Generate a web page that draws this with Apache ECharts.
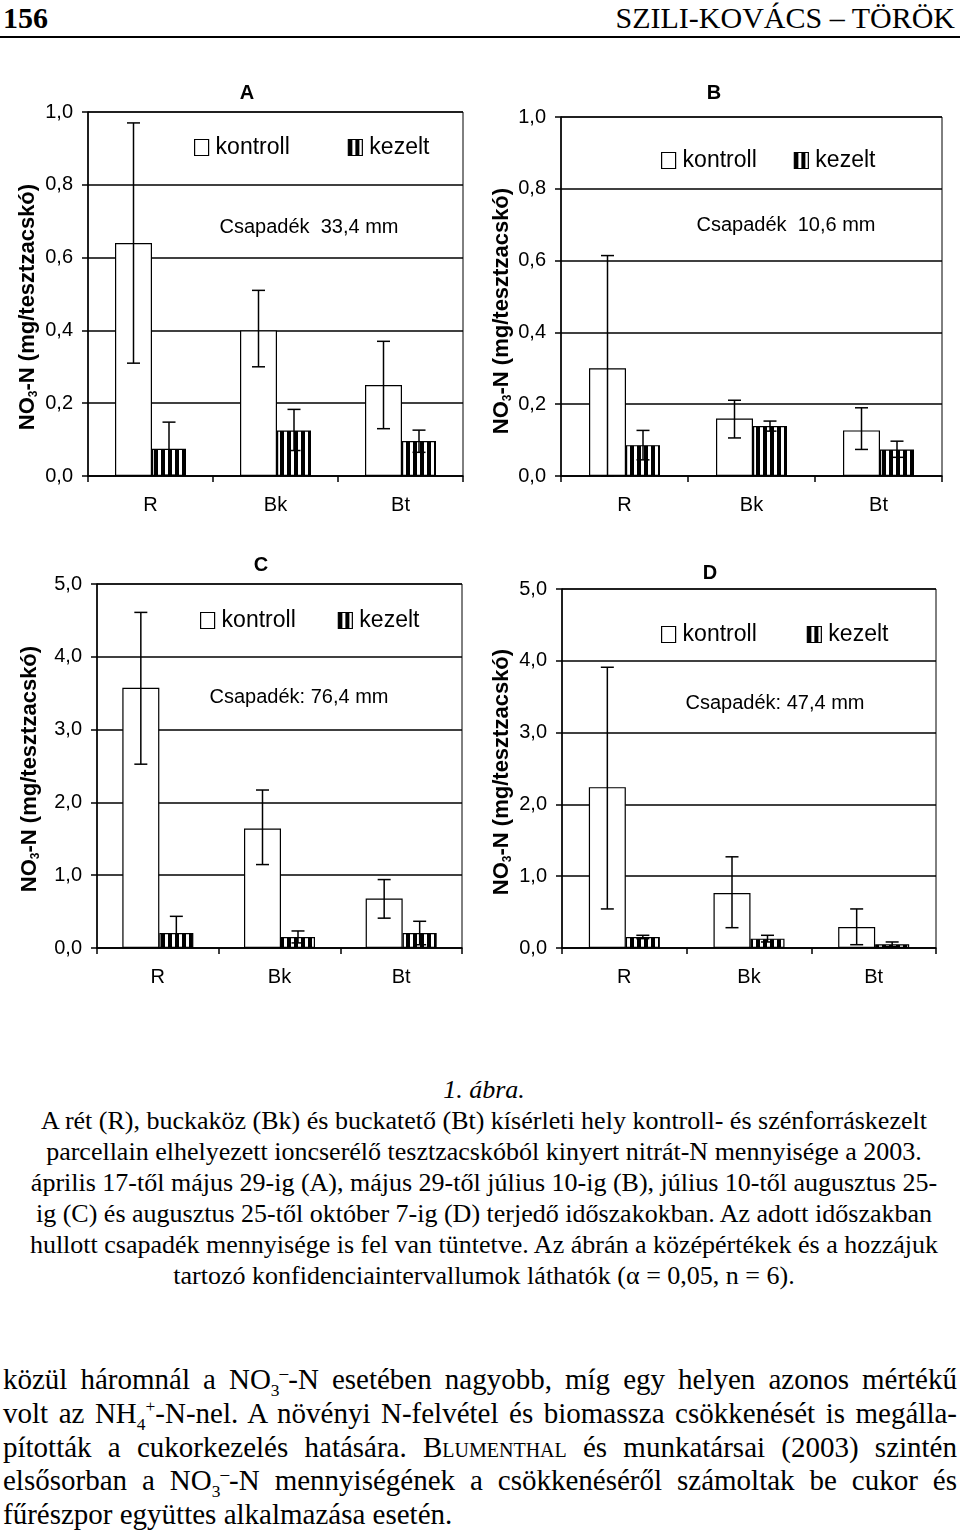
<!DOCTYPE html>
<html>
<head>
<meta charset="utf-8">
<script src="https://cdn.jsdelivr.net/npm/echarts@6/dist/echarts.min.js"></script>
<style>
  html, body { margin: 0; padding: 0; background: #fff; }
  body { width: 960px; height: 1531px; position: relative; overflow: hidden; font-family: 'Liberation Serif', 'Times New Roman', serif; color: #000; }
  #chart { position: absolute; left: 0; top: 44px; width: 960px; height: 966px; z-index: 1; }
  .hdr { position: absolute; top: 1px; font-size: 30px; line-height: 33px; z-index: 2; }
  #rule { position: absolute; left: 0; top: 36px; width: 960px; height: 0; border-top: 2.5px solid #000; z-index: 2; }
  #caption { position: absolute; left: 4px; top: 1074px; width: 960px; text-align: center; font-size: 26px; line-height: 31px; z-index: 2; }
  #para { position: absolute; left: 3px; top: 1363px; width: 954px; font-size: 29px; line-height: 33.8px; z-index: 2; }
  #para .j { text-align: justify; text-align-last: justify; white-space: nowrap; }
  sub, sup { font-size: 60%; line-height: 0; }
  .sc { font-variant: small-caps; }
</style>
</head>
<body>
<div class="hdr" style="left:3px;font-weight:bold;">156</div>
<div class="hdr" style="right:5px;">SZILI-KOVÁCS – TÖRÖK</div>
<div id="rule"></div>
<div id="chart"></div>
<div id="caption">
  <div><i>1. ábra.</i></div>
  <div>A rét (R), buckaköz (Bk) és buckatető (Bt) kísérleti hely kontroll- és szénforráskezelt</div>
  <div>parcellain elhelyezett ioncserélő tesztzacskóból kinyert nitrát-N mennyisége a 2003.</div>
  <div>április 17-től május 29-ig (A), május 29-től július 10-ig (B), július 10-től augusztus 25-</div>
  <div>ig (C) és augusztus 25-től október 7-ig (D) terjedő időszakokban. Az adott időszakban</div>
  <div>hullott csapadék mennyisége is fel van tüntetve. Az ábrán a középértékek és a hozzájuk</div>
  <div>tartozó konfidenciaintervallumok láthatók (α = 0,05, n = 6).</div>
</div>
<div id="para">
  <div class="j">közül háromnál a NO<sub>3</sub><sup>–</sup>-N esetében nagyobb, míg egy helyen azonos mértékű</div>
  <div class="j">volt az NH<sub>4</sub><sup>+</sup>-N-nel. A növényi N-felvétel és biomassza csökkenését is megálla-</div>
  <div class="j">pították a cukorkezelés hatására. B<span class="sc">lumenthal</span> és munkatársai (2003) szintén</div>
  <div class="j">elsősorban a NO<sub>3</sub><sup>–</sup>-N mennyiségének a csökkenéséről számoltak be cukor és</div>
  <div>fűrészpor együttes alkalmazása esetén.</div>
</div>
<script>
// ---------------- data ----------------
const categories = ['R', 'Bk', 'Bt'];
const seriesNames = ['kontroll', 'kezelt'];

// Panel A (0–1,0)
const A_kontroll    = [0.64, 0.40, 0.25];
const A_kontroll_lo = [0.31, 0.30, 0.13];
const A_kontroll_hi = [0.97, 0.51, 0.37];
const A_kezelt      = [0.075, 0.125, 0.096];
const A_kezelt_lo   = [0.002, 0.07, 0.065];
const A_kezelt_hi   = [0.148, 0.183, 0.126];

// Panel B (0–1,0)
const B_kontroll    = [0.30, 0.16, 0.127];
const B_kontroll_lo = [0.0, 0.106, 0.074];
const B_kontroll_hi = [0.614, 0.211, 0.19];
const B_kezelt      = [0.086, 0.139, 0.074];
const B_kezelt_lo   = [0.045, 0.125, 0.052];
const B_kezelt_hi   = [0.127, 0.153, 0.097];

// Panel C (0–5,0)
const C_kontroll    = [3.575, 1.64, 0.68];
const C_kontroll_lo = [2.525, 1.146, 0.41];
const C_kontroll_hi = [4.61, 2.17, 0.94];
const C_kezelt      = [0.206, 0.151, 0.206];
const C_kezelt_lo   = [0.0, 0.07, 0.045];
const C_kezelt_hi   = [0.435, 0.234, 0.367];

// Panel D (0–5,0)
const D_kontroll    = [2.24, 0.767, 0.293];
const D_kontroll_lo = [0.544, 0.283, 0.046];
const D_kontroll_hi = [3.91, 1.27, 0.544];
const D_kezelt      = [0.153, 0.13, 0.051];
const D_kezelt_lo   = [0.13, 0.084, 0.018];
const D_kezelt_hi   = [0.177, 0.177, 0.084];

const panelTitles = ['A', 'B', 'C', 'D'];
const rainLabels = ['Csapadék  33,4 mm', 'Csapadék  10,6 mm', 'Csapadék: 76,4 mm', 'Csapadék: 47,4 mm'];
const yMax = [1.0, 1.0, 5.0, 5.0];
const yInterval = [0.2, 0.2, 1.0, 1.0];

// ---------------- layout / style ----------------
const OY = 44; // chart container offset from page top
const layout = [
  { grid: { left: 88, top: 112, width: 375, height: 364 }, title: [247, 93], rain: [309, 227], legend: { left: 194, top: 136, gap: 58 }, yname: [28, 307] },
  { grid: { left: 561, top: 117, width: 381, height: 359 }, title: [714, 93], rain: [786, 225], legend: { left: 661, top: 149, gap: 37 }, yname: [502, 311] },
  { grid: { left: 97, top: 584, width: 365, height: 364 }, title: [261, 565], rain: [299, 697], legend: { left: 200, top: 609, gap: 42 }, yname: [30, 769] },
  { grid: { left: 562, top: 589, width: 374, height: 359 }, title: [710, 573], rain: [775, 703], legend: { left: 661, top: 623, gap: 50 }, yname: [502, 772] }
];
const FONT = "'Liberation Sans', Arial, sans-serif";
const W_K = 37, W_Z = 34;            // bar widths
const OFF_K = -(W_K + W_Z) / 2 + W_K / 2;
const OFF_Z = -(W_K + W_Z) / 2 + W_K + W_Z / 2;

// vertical stripe pattern
const cv = document.createElement('canvas');
cv.width = 7; cv.height = 4;
const cx = cv.getContext('2d');
cx.fillStyle = '#fff'; cx.fillRect(0, 0, 7, 4);
cx.fillStyle = '#000'; cx.fillRect(0, 0, 4, 4);
const stripe = { image: cv, repeat: 'repeat' };

const panelData = [
  [A_kontroll, A_kontroll_lo, A_kontroll_hi, A_kezelt, A_kezelt_lo, A_kezelt_hi],
  [B_kontroll, B_kontroll_lo, B_kontroll_hi, B_kezelt, B_kezelt_lo, B_kezelt_hi],
  [C_kontroll, C_kontroll_lo, C_kontroll_hi, C_kezelt, C_kezelt_lo, C_kezelt_hi],
  [D_kontroll, D_kontroll_lo, D_kontroll_hi, D_kezelt, D_kezelt_lo, D_kezelt_hi]
];

function errSeries(i, lo, hi, off) {
  return {
    type: 'custom', xAxisIndex: i, yAxisIndex: i, z: 5, silent: true,
    data: categories.map((c, k) => [k, lo[k], hi[k]]),
    renderItem: function (params, api) {
      const x = api.coord([api.value(0), 0])[0] + off;
      const yH = api.coord([api.value(0), api.value(2)])[1];
      const yL = api.coord([api.value(0), api.value(1)])[1];
      const st = { stroke: '#000', lineWidth: 1.5 };
      return { type: 'group', children: [
        { type: 'line', shape: { x1: x, y1: yH, x2: x, y2: yL }, style: st },
        { type: 'line', shape: { x1: x - 6.5, y1: yH, x2: x + 6.5, y2: yH }, style: st },
        { type: 'line', shape: { x1: x - 6.5, y1: yL, x2: x + 6.5, y2: yL }, style: st }
      ]};
    }
  };
}

const grids = [], xAxes = [], yAxes = [], series = [], legends = [], graphics = [];
layout.forEach((L, i) => {
  grids.push({ show: true, borderColor: '#000', borderWidth: 1, backgroundColor: '#fff',
    left: L.grid.left, top: L.grid.top - OY, width: L.grid.width, height: L.grid.height });
  xAxes.push({
    type: 'category', gridIndex: i, data: categories, boundaryGap: true,
    axisLine: { lineStyle: { color: '#000', width: 1.5 } },
    axisTick: { show: true, length: 6, lineStyle: { color: '#000', width: 1.5 } },
    axisLabel: { color: '#000', fontFamily: FONT, fontSize: 20, margin: 19 }
  });
  yAxes.push({
    type: 'value', gridIndex: i, min: 0, max: yMax[i], interval: yInterval[i],
    axisLine: { show: true, lineStyle: { color: '#000', width: 1.5 } },
    axisTick: { show: true, length: 6, lineStyle: { color: '#000', width: 1.5 } },
    splitLine: { show: true, lineStyle: { color: '#000', width: 1.5 } },
    axisLabel: { color: '#000', fontFamily: FONT, fontSize: 20, margin: 15,
      formatter: v => v.toFixed(1).replace('.', ',') }
  });
  const d = panelData[i];
  series.push({
    name: seriesNames[0], type: 'bar', xAxisIndex: i, yAxisIndex: i, data: d[0],
    barWidth: W_K, barGap: '0%',
    itemStyle: { color: '#fff', borderColor: '#000', borderWidth: 1.2 }
  });
  series.push({
    name: seriesNames[1], type: 'bar', xAxisIndex: i, yAxisIndex: i, data: d[3],
    barWidth: W_Z, barGap: '0%',
    itemStyle: { color: stripe, borderColor: '#000', borderWidth: 1.2 }
  });
  series.push(errSeries(i, d[1], d[2], OFF_K));
  series.push(errSeries(i, d[4], d[5], OFF_Z));
  legends.push({
    left: L.legend.left, top: L.legend.top - OY, itemGap: L.legend.gap, padding: 0,
    itemWidth: 14, itemHeight: 16, icon: 'rect', selectedMode: false,
    data: seriesNames,
    itemStyle: { borderColor: '#000', borderWidth: 1.2 },
    textStyle: { color: '#000', fontFamily: FONT, fontSize: 23, padding: [0, 0, 0, 2] }
  });
  graphics.push({ type: 'text', x: L.title[0], y: L.title[1] - OY,
    style: { text: panelTitles[i], fontFamily: FONT, fontSize: 20, fontWeight: 'bold', fill: '#000', align: 'center', verticalAlign: 'middle' } });
  graphics.push({ type: 'text', x: L.rain[0], y: L.rain[1] - OY,
    style: { text: rainLabels[i], fontFamily: FONT, fontSize: 20, fill: '#000', align: 'center', verticalAlign: 'middle' } });
  graphics.push({ type: 'text', x: L.yname[0], y: L.yname[1] - OY, rotation: Math.PI / 2,
    style: {
      text: '{a|NO}{s|3}{a|-N (mg/tesztzacskó)}',
      align: 'center', verticalAlign: 'middle',
      rich: {
        a: { fontFamily: FONT, fontSize: 22, fontWeight: 'bold', fill: '#000', lineHeight: 24 },
        s: { fontFamily: FONT, fontSize: 12, fontWeight: 'bold', fill: '#000', verticalAlign: 'bottom', lineHeight: 15 }
      }
    } });
});

const chart = echarts.init(document.getElementById('chart'), null, { renderer: 'canvas' });
chart.setOption({
  animation: false,
  backgroundColor: 'transparent',
  grid: grids, xAxis: xAxes, yAxis: yAxes, series: series, legend: legends,
  graphic: graphics
});
</script>
</body>
</html>
